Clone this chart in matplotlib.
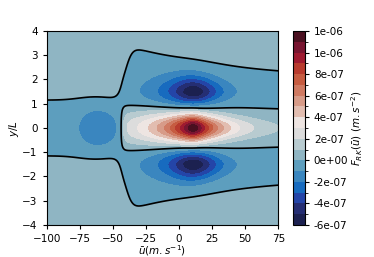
import matplotlib
matplotlib.use('Agg')
import matplotlib.pyplot as plt
import numpy as np
from matplotlib.colors import ListedColormap, BoundaryNorm

# contour levels of the colour bar (m.s^-2)
levels = np.arange(-6e-7, 1.25e-6, 1e-7)
cbar_ticks = np.arange(-6e-7, 1.25e-6, 2e-7)

# colours of the bands, bottom to top
band_colors = ['#1c2150', '#252e73', '#2445a8', '#176bbf', '#3a86bf', '#5d9ebe',
               '#8fb5c3', '#b8cbd0', '#dcdcdc', '#eee5e2', '#e2bdb0', '#d79b88',
               '#cf7a62', '#c65c41', '#b83b2e', '#9e1a30', '#781530', '#4a1020']

# lobes of the forcing: centre (u, y) and peak value
blob_u = [10.3, 10.8, 10.8, -61]
blob_y = [0.0, 1.49, -1.49, 0.0]
blob_amp = [1.14e-6, -5.55e-7, -5.55e-7, -1.7e-7]
# shape along u (left / right flank): core width a, flank steepness b
blob_a_left = [2.16, 12, 12, 40]
blob_b_left = [0.077, 0.8, 0.8, 13.3]
blob_a_right = [4, 20, 20, 40]
blob_b_right = [0.18, 2.2, 2.2, 13.3]
# widths along y (towards the equator / away from it)
blob_sy_in = [0.55, 0.535, 0.535, 0.6]
blob_sy_out = [0.55, 0.65, 0.65, 0.6]
blob_cut = [1, 1, 1, 0]   # lobes that stop at the critical line

# weak background: where the zero line sits
bg_amp = 3e-8
u_step = -43
y_inner_left, y_inner_right = 0.87, 0.78
y_outer_left = 1.15
u_rise, w_rise = -40.5, 5
y_outer_far, y_outer_gain, y_outer_decay = 2.0, 1.17, 84

u = np.linspace(-100, 75, 500)
y = np.linspace(-4, 4, 360)
U, Y = np.meshgrid(u, y)

# background
T = 0.5 * (1 + np.tanh((U - u_step) / 2.5))
T2 = 0.5 * (1 + np.tanh((U - u_rise) / w_rise))
y_in = y_inner_left + (y_inner_right - y_inner_left) * (U - u_step) / (75 - u_step)
y_out = y_outer_left + T2 * (y_outer_far + y_outer_gain * np.exp(-(U + 25) / y_outer_decay) - y_outer_left)
s1 = np.tanh((np.abs(Y) - y_in) / 0.3)
s2 = np.tanh((np.abs(Y) - y_out) / 0.3)
F = bg_amp * s2 * (T * s1 + (1 - T))

# lobes, wider in y at low u
r = 1 + 0.45 * (10 - U) / 100
for i in range(len(blob_u)):
    du = U - blob_u[i]
    a = np.where(du < 0, blob_a_left[i], blob_a_right[i])
    b = np.where(du < 0, blob_b_left[i], blob_b_right[i])
    gu = np.exp(-b * (np.sqrt(1 + (du / a) ** 2) - 1))
    dy = (Y - blob_y[i]) / r
    sy = np.where(np.abs(Y) < abs(blob_y[i]), blob_sy_in[i], blob_sy_out[i])
    g = blob_amp[i] * gu * np.exp(-(dy / sy) ** 2)
    if blob_cut[i]:
        g = g * T
    F += g

cmap = ListedColormap(band_colors)
norm = BoundaryNorm(levels, cmap.N)

fig = plt.figure(figsize=(3.74, 2.57), dpi=100)
ax = fig.add_axes([0.125, 0.1245, 0.619, 0.755])
cax = fig.add_axes([0.783, 0.1245, 0.032, 0.755])

cf = ax.contourf(U, Y, F, levels=levels, cmap=cmap, norm=norm)
ax.contour(U, Y, F, levels=[0], colors='black', linewidths=1.2)

ax.set_xlim(-100, 75)
ax.set_ylim(-4, 4)
ax.set_xticks([-100, -75, -50, -25, 0, 25, 50, 75])
ax.set_yticks([-4, -3, -2, -1, 0, 1, 2, 3, 4])
ax.tick_params(labelsize=7.5, length=3)
ax.set_xlabel(r'$\bar{u}(m.s^{-1})$', fontsize=7.5)
ax.xaxis.set_label_coords(0.5, -0.095)
ax.set_ylabel(r'$y/L$', fontsize=7.5, labelpad=1)

cb = fig.colorbar(cf, cax=cax, ticks=cbar_ticks, format='%.0e')
cb.ax.tick_params(labelsize=7.5, length=3)
cb.set_label(r'$F_{RK}(\bar{u})\ (m.s^{-2})$', fontsize=7.5, labelpad=1)

fig.savefig('out.png', dpi=100)
